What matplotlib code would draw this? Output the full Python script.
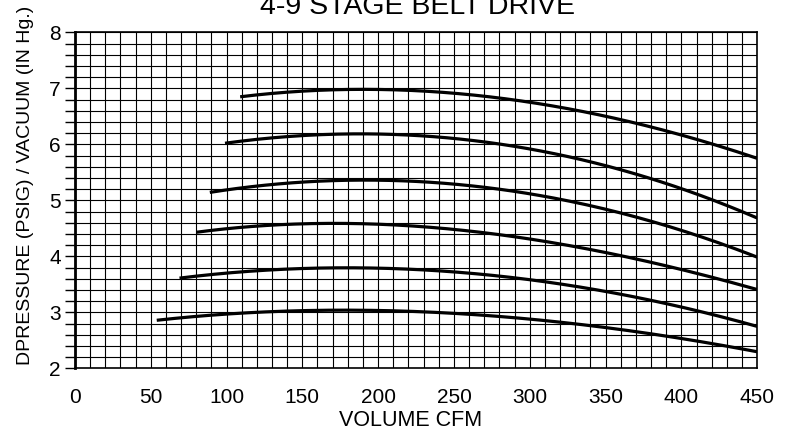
import numpy as np
import matplotlib
matplotlib.use("Agg")
import matplotlib.pyplot as plt
from matplotlib.ticker import MultipleLocator

plt.rcParams['font.family'] = ['Liberation Sans', 'DejaVu Sans']

# curves (volume cfm, pressure)
c1_x = [109, 142, 196, 241, 274, 300, 340, 376, 414, 450]
c1_y = [6.86, 6.92, 6.98, 6.93, 6.85, 6.76, 6.58, 6.31, 6.05, 5.76]
c2_x = [99, 142, 190, 241, 274, 300, 340, 376, 414, 450]
c2_y = [6.02, 6.14, 6.20, 6.11, 6.02, 5.92, 5.72, 5.42, 5.04, 4.70]
c3_x = [89, 142, 200, 241, 274, 300, 340, 376, 414, 450]
c3_y = [5.14, 5.31, 5.38, 5.30, 5.20, 5.12, 4.92, 4.65, 4.35, 3.98]
c4_x = [80, 142, 185, 241, 274, 300, 340, 376, 414, 450]
c4_y = [4.43, 4.57, 4.60, 4.49, 4.39, 4.33, 4.14, 3.90, 3.67, 3.41]
c5_x = [69, 142, 196, 241, 274, 300, 340, 376, 414, 450]
c5_y = [3.61, 3.77, 3.82, 3.73, 3.64, 3.58, 3.44, 3.23, 3.02, 2.74]
c6_x = [54, 142, 196, 241, 274, 300, 340, 376, 414, 450]
c6_y = [2.86, 3.02, 3.05, 2.98, 2.93, 2.90, 2.77, 2.62, 2.47, 2.30]

curves = [(c1_x, c1_y), (c2_x, c2_y), (c3_x, c3_y),
          (c4_x, c4_y), (c5_x, c5_y), (c6_x, c6_y)]

fig = plt.figure(figsize=(7.88, 4.37), dpi=100)
ax = fig.add_axes([0.095, 0.157, 0.866, 0.769])

for xs, ys in curves:
    # smooth the read points for drawing
    p = np.polyfit(xs, ys, 3)
    xx = np.linspace(xs[0], xs[-1], 200)
    ax.plot(xx, np.polyval(p, xx), color='black', lw=2.3, solid_capstyle='butt')

ax.set_xlim(0, 450)
ax.set_ylim(2, 8)
ax.xaxis.set_major_locator(MultipleLocator(50))
ax.xaxis.set_minor_locator(MultipleLocator(10))
ax.yaxis.set_major_locator(MultipleLocator(1))
ax.yaxis.set_minor_locator(MultipleLocator(0.2))
ax.grid(which='both', color='black', lw=0.8)
ax.set_axisbelow(True)

ax.tick_params(axis='x', which='both', length=0, pad=14, labelsize=15)
ax.tick_params(axis='y', which='both', length=7, width=1, pad=3, labelsize=15)
for s in ax.spines.values():
    s.set_linewidth(1.2)
ax.spines['left'].set_linewidth(2)

ax.set_xlabel('VOLUME CFM', fontsize=15.5)
ax.xaxis.set_label_coords(0.492, -0.155)
ax.xaxis.label.set_va('center')
ax.set_ylabel('DPRESSURE (PSIG) / VACUUM (IN Hg.)', fontsize=14)
ax.yaxis.set_label_coords(-0.073, 0.545)
ax.yaxis.label.set_va('center')
fig.text(0.53, 1 - 14 / 437, '4-9 STAGE BELT DRIVE', ha='center', va='baseline', fontsize=20.5)

fig.savefig('out.png', dpi=100)
